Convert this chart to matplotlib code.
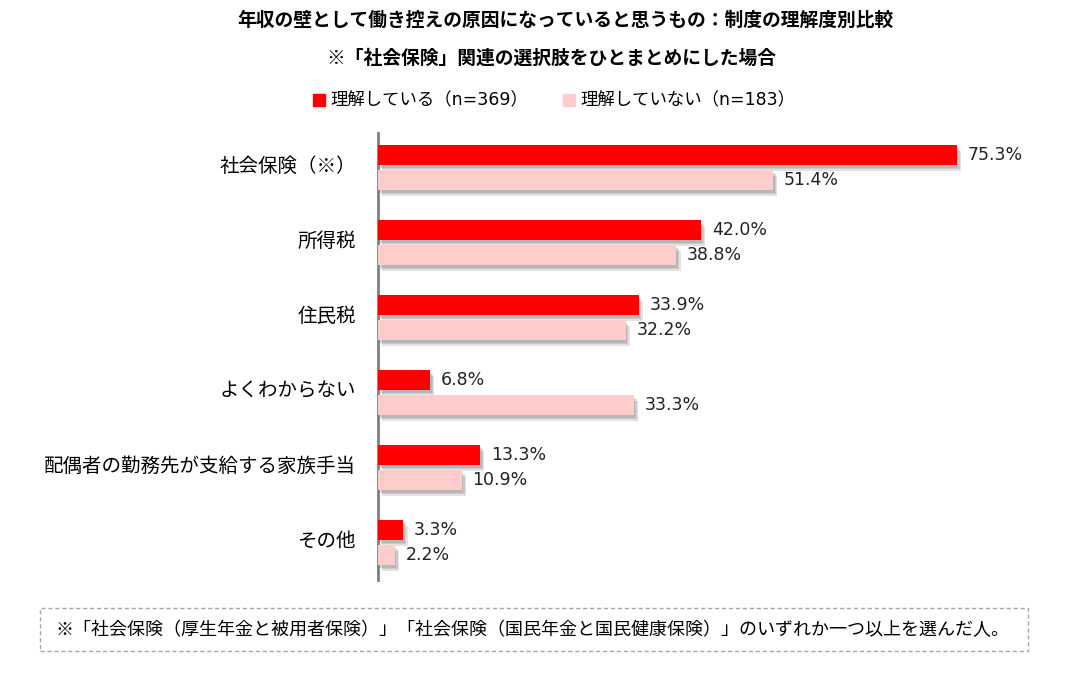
import numpy as np
import matplotlib.pyplot as plt
import matplotlib.patheffects as pe
from matplotlib.patches import Rectangle

plt.rcParams['font.family'] = ['Noto Sans CJK JP', 'DejaVu Sans']
num_font = ['DejaVu Sans', 'Noto Sans CJK JP']

categories = ['社会保険（※）', '所得税', '住民税', 'よくわからない',
              '配偶者の勤務先が支給する家族手当', 'その他']
understand = [75.3, 42.0, 33.9, 6.8, 13.3, 3.3]
not_understand = [51.4, 38.8, 32.2, 33.3, 10.9, 2.2]
series_names = ['理解している（n=369）', '理解していない（n=183）']
colors = ['#FF0000', '#FFCCCC']

title = '年収の壁として働き控えの原因になっていると思うもの：制度の理解度別比較'
subtitle = '※「社会保険」関連の選択肢をひとまとめにした場合'
footnote = '※「社会保険（厚生年金と被用者保険）」「社会保険（国民年金と国民健康保険）」のいずれか一つ以上を選んだ人。'

W, H = 1066, 675
fig = plt.figure(figsize=(W / 100, H / 100), dpi=100)
ax = fig.add_axes([378 / W, 1 - 580 / H, (1000 - 378) / W, 447 / H])

y = np.arange(len(categories))
h = 0.267
off = 0.167
# soft drop shadow
shadow = [pe.SimplePatchShadow(offset=(k, -k - 1), shadow_rgbFace='#606060', alpha=0.18)
          for k in (3, 2, 1)] + [pe.Normal()]

for vals, c, d in [(understand, colors[0], -off), (not_understand, colors[1], off)]:
    bars = ax.barh(y + d, vals, height=h, color=c, zorder=3)
    for b, v in zip(bars, vals):
        b.set_path_effects(shadow)
        ax.text(v + 1.4, b.get_y() + b.get_height() / 2, f'{v:.1f}%',
                va='center', ha='left', fontsize=12.5, color='#222222',
                family=num_font)

ax.set_xlim(0, (1000 - 378) / 7.69)
ax.set_ylim(5.5, -0.46)
ax.set_xticks([])
ax.set_yticks(y - 0.05)
ax.set_yticklabels(categories, fontsize=14)
ax.tick_params(axis='y', length=0, pad=16)
for s in ['top', 'right', 'bottom']:
    ax.spines[s].set_visible(False)
ax.spines['left'].set_color('#808080')
ax.spines['left'].set_linewidth(2)

fig.text(565 / W, 1 - 20 / H, title, ha='center', va='center',
         fontsize=13.5, fontweight='bold')
fig.text(551 / W, 1 - 58 / H, subtitle, ha='center', va='center',
         fontsize=13.5, fontweight='bold')

# legend
lx = [313, 563]
for i in range(2):
    fig.patches.append(Rectangle((lx[i] / W, 1 - 106 / H), 12 / W, 12 / H,
                                 transform=fig.transFigure, color=colors[i]))
    fig.text((lx[i] + 17) / W, 1 - 100 / H, series_names[i], ha='left',
             va='center', fontsize=12.5, family=num_font)

# footnote box
fig.patches.append(Rectangle((40 / W, 1 - 651 / H), 988 / W, 43 / H,
                             transform=fig.transFigure, fill=False,
                             edgecolor='#A6A6A6', linestyle=(0, (3, 2)), lw=1))
fig.text(55 / W, 1 - 630 / H, footnote, ha='left', va='center', fontsize=13)

fig.savefig('out.png', dpi=100)
